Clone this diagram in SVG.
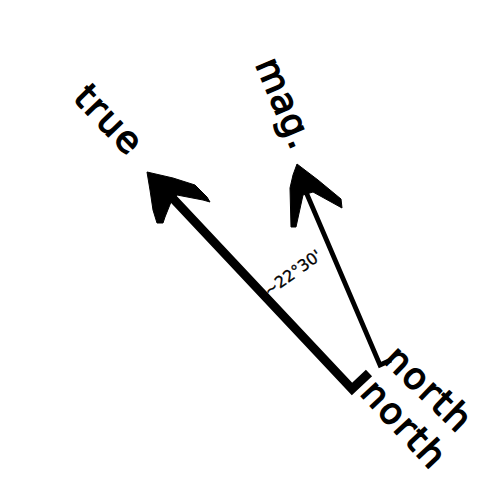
<svg xmlns="http://www.w3.org/2000/svg" width="486" height="501" viewBox="0 0 486 501">
<style>
.lbl{font-family:"DejaVu Sans","Liberation Sans",sans-serif;font-size:36px;fill:#000;stroke:#000;stroke-width:1.4;letter-spacing:2px}
.ang{font-family:"DejaVu Sans","Liberation Sans",sans-serif;font-size:16px;fill:#000;stroke:#000;stroke-width:0.3}
.shaft{fill:none;stroke:#000;stroke-linejoin:miter;stroke-linecap:butt}
.head{fill:#000;stroke:#000;stroke-width:1;stroke-linejoin:round}
</style>
<rect width="486" height="501" fill="#fff"/>
<g id="connectors">
  <g id="true-arrow">
    <polyline class="shaft" stroke-width="9" points="165,190 352,389 369,373"/>
    <polygon class="head" points="147,172 173,178 195,185 207,197 210,202 203,200 177,195 171,202 165,217 163,223 157,223 153,210 150,190"/>
  </g>
  <g id="mag-arrow">
    <polyline class="shaft" stroke-width="4.8" points="303,185 380,365 391,360"/>
    <polygon class="head" points="297,164 318,180 341,199 342,208 313,192 303,195 296,227 291,227 290,188 293,175"/>
  </g>
</g>
<g id="true-label"><text class="lbl" transform="translate(72,99) rotate(46)">true</text></g>
<g id="mag-label"><text class="lbl" style="letter-spacing:1px" transform="translate(255,64) rotate(67)">mag.</text></g>
<g id="true-north"><text class="lbl" transform="translate(359,394) rotate(47)">north</text></g>
<g id="mag-north"><text class="lbl" transform="translate(382,361) rotate(44)">north</text></g>
<g id="angle-label"><text class="ang" transform="translate(269,297) rotate(-36)">~22°30'</text></g>
</svg>
